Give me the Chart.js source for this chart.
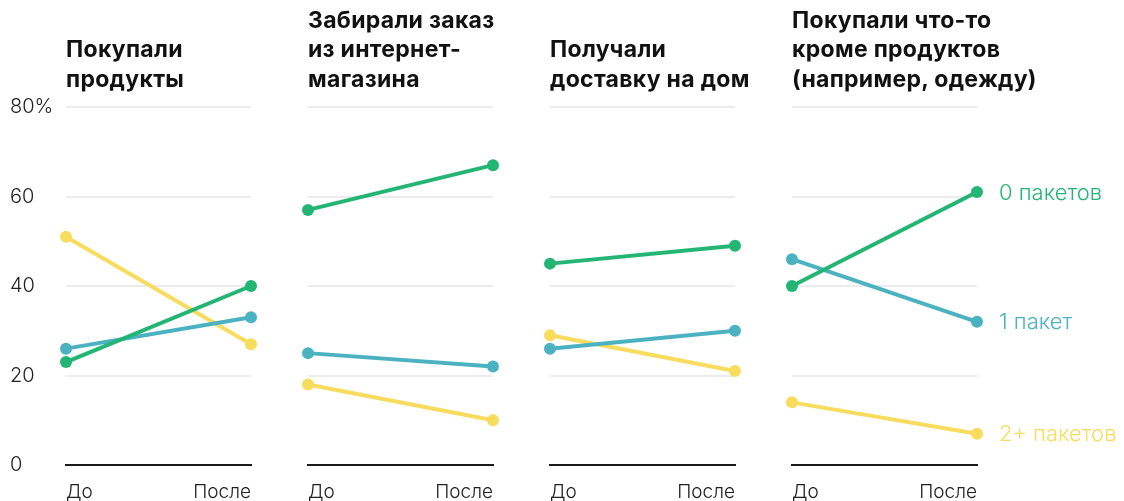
<!DOCTYPE html>
<html>
<head>
<meta charset="utf-8">
<script src="https://cdn.jsdelivr.net/npm/chart.js@4/dist/chart.umd.min.js"></script>
<style>
  html, body { margin: 0; padding: 0; background: #fff; }
  #wrap { position: relative; width: 1124px; height: 501px; overflow: hidden; }
  #wrap canvas { position: absolute; top: 0; }
  .title {
    position: absolute; bottom: 407px;
    font-family: Inter, "Noto Sans", sans-serif; font-weight: 700;
    font-size: 23px; line-height: 29.5px; letter-spacing: 0.3px;
    color: #111; white-space: nowrap;
  }
</style>
</head>
<body>
<div id="wrap"></div>
<script>
// data
const periods = ['До', 'После'];
const panelTitles = [
    ['Покупали', 'продукты'],
    ['Забирали заказ', 'из интернет-', 'магазина'],
    ['Получали', 'доставку на дом'],
    ['Покупали что-то', 'кроме продуктов', '(например, одежду)']
];
const seriesNames = ['0 пакетов', '1 пакет', '2+ пакетов'];
const zeroBags = [[23, 40], [57, 67], [45, 49], [40, 61]];
const oneBag = [[26, 33], [25, 22], [26, 30], [46, 32]];
const twoPlusBags = [[51, 27], [18, 10], [29, 21], [14, 7]];
const yTicks = [0, 20, 40, 60, 80];

const colors = ['#22b573', '#4bb2c2', '#f8dc5e'];
const panelX = [66, 308, 550, 792];
const plotW = 185;

// labels at the end of each line, last panel only
const endLabels = {
    id: 'endLabels',
    afterDatasetsDraw(chart, args, opts) {
        if (!opts.show) return;
        const ctx = chart.ctx;
        ctx.save();
        ctx.font = '300 22px Inter, "Noto Sans", sans-serif';
        ctx.textBaseline = 'middle';
        ctx.textAlign = 'left';
        chart.data.datasets.forEach((ds, i) => {
            const pts = chart.getDatasetMeta(i).data;
            const p = pts[pts.length - 1];
            ctx.fillStyle = ds.borderColor;
            ctx.fillText(ds.label, p.x + 22, p.y + 1);
        });
        ctx.restore();
    }
};

const wrap = document.getElementById('wrap');

panelX.forEach((px, k) => {
    const last = k === panelX.length - 1;
    const left = px - 66;
    const width = last ? 1124 - left : 66 + plotW + 12;

    const canvas = document.createElement('canvas');
    canvas.style.left = left + 'px';
    canvas.style.width = width + 'px';
    canvas.style.height = '501px';
    canvas.width = width;
    canvas.height = 501;
    wrap.appendChild(canvas);

    const t = document.createElement('div');
    t.className = 'title';
    t.style.left = px + 'px';
    t.innerHTML = panelTitles[k].join('<br>');
    wrap.appendChild(t);

    const series = [zeroBags[k], oneBag[k], twoPlusBags[k]];

    new Chart(canvas, {
        type: 'line',
        data: {
            labels: periods,
            datasets: series.map((vals, i) => ({
                label: seriesNames[i],
                data: vals,
                borderColor: colors[i],
                backgroundColor: colors[i],
                borderWidth: 4,
                pointRadius: 6,
                pointHoverRadius: 6,
                pointBorderWidth: 0,
                clip: false,
                order: i
            }))
        },
        options: {
            responsive: false,
            animation: false,
            layout: { padding: { left: 10, right: width - 66 - plotW, top: 107, bottom: 0 } },
            plugins: {
                legend: { display: false },
                tooltip: { enabled: false },
                endLabels: { show: last }
            },
            scales: {
                x: {
                    type: 'category',
                    offset: false,
                    grid: { display: false },
                    border: { display: true, color: '#1a1a1a', width: 2 },
                    ticks: {
                        align: 'inner',
                        maxRotation: 0,
                        padding: 8,
                        color: '#222',
                        font: { family: 'Inter, "Noto Sans", sans-serif', size: 19, weight: 300 }
                    },
                    afterFit(scale) { scale.height = 36; }
                },
                y: {
                    min: 0,
                    max: 80,
                    afterBuildTicks(scale) { scale.ticks = yTicks.map(v => ({ value: v })); },
                    grid: {
                        color: ctx => ctx.tick && ctx.tick.value === 0 ? 'rgba(0,0,0,0)' : '#ececec',
                        lineWidth: 2,
                        drawTicks: false
                    },
                    border: { display: false },
                    ticks: {
                        display: k === 0,
                        crossAlign: 'far',
                        color: '#222',
                        font: { family: 'Inter, "Noto Sans", sans-serif', size: 20, weight: 300 },
                        callback: v => v === 80 ? '80%' : String(v)
                    },
                    afterFit(scale) { scale.width = 56; }
                }
            }
        },
        plugins: [endLabels]
    });
});
</script>
</body>
</html>
